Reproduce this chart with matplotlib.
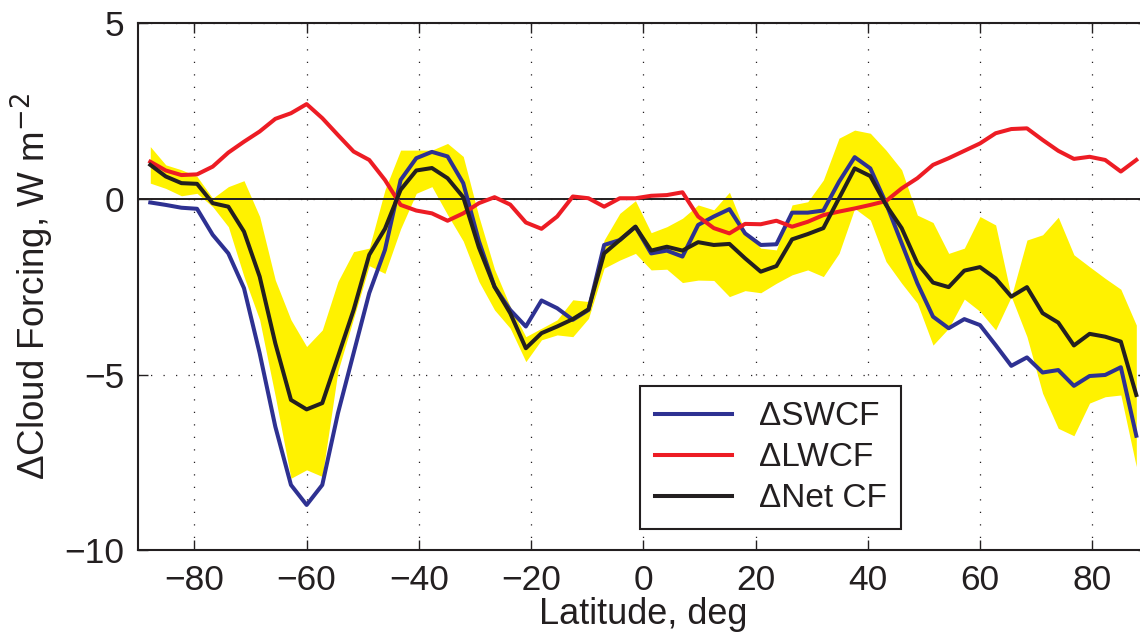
"""Zonal mean change in cloud forcing with spread band"""

import matplotlib
matplotlib.use('Agg')
import matplotlib.pyplot as plt

plt.rcParams['font.family'] = ['Liberation Sans', 'DejaVu Sans']
plt.rcParams['axes.unicode_minus'] = True

# T42 gaussian latitudes, south to north
lat = [-87.86, -85.10, -82.31, -79.53, -76.74, -73.95, -71.16, -68.37,
       -65.58, -62.79, -60.00, -57.21, -54.42, -51.63, -48.84, -46.04,
       -43.25, -40.46, -37.67, -34.88, -32.09, -29.30, -26.51, -23.72,
       -20.93, -18.14, -15.35, -12.56, -9.77, -6.98, -4.19, -1.40,
       1.40, 4.19, 6.98, 9.77, 12.56, 15.35, 18.14, 20.93,
       23.72, 26.51, 29.30, 32.09, 34.88, 37.67, 40.46, 43.25,
       46.04, 48.84, 51.63, 54.42, 57.21, 60.00, 62.79, 65.58,
       68.37, 71.16, 73.95, 76.74, 79.53, 82.31, 85.10, 87.86]

dswcf = [-0.10, -0.17, -0.25, -0.28, -1.02, -1.55, -2.54, -4.39,
         -6.48, -8.14, -8.71, -8.14, -6.10, -4.39, -2.68, -1.45,
         0.54, 1.16, 1.34, 1.21, 0.45, -1.20, -2.50, -3.16,
         -3.63, -2.89, -3.11, -3.44, -3.16, -1.31, -1.17, -0.79,
         -1.55, -1.47, -1.64, -0.74, -0.50, -0.29, -0.98, -1.31,
         -1.29, -0.39, -0.39, -0.33, 0.49, 1.19, 0.87, -0.12,
         -1.26, -2.40, -3.35, -3.68, -3.42, -3.59, -4.16, -4.75,
         -4.51, -4.94, -4.87, -5.32, -5.04, -5.01, -4.79, -6.74]

dlwcf = [1.06, 0.81, 0.68, 0.70, 0.92, 1.32, 1.63, 1.92,
         2.28, 2.44, 2.70, 2.30, 1.82, 1.35, 1.11, 0.54,
         -0.17, -0.33, -0.41, -0.62, -0.41, -0.12, 0.05, -0.16,
         -0.67, -0.85, -0.50, 0.07, 0.02, -0.22, 0.02, 0.02,
         0.09, 0.11, 0.19, -0.50, -0.83, -0.98, -0.71, -0.72,
         -0.62, -0.79, -0.65, -0.46, -0.36, -0.27, -0.17, -0.06,
         0.30, 0.59, 0.97, 1.16, 1.37, 1.58, 1.87, 1.99,
         2.01, 1.68, 1.37, 1.14, 1.20, 1.11, 0.78, 1.11]

dnetcf = [0.97, 0.64, 0.45, 0.43, -0.12, -0.22, -0.93, -2.21,
          -4.11, -5.72, -5.99, -5.81, -4.49, -3.16, -1.59, -0.85,
          0.26, 0.81, 0.88, 0.59, 0.05, -1.38, -2.50, -3.25,
          -4.25, -3.82, -3.63, -3.42, -3.14, -1.55, -1.17, -0.79,
          -1.47, -1.36, -1.47, -1.23, -1.31, -1.28, -1.69, -2.07,
          -1.91, -1.15, -1.00, -0.83, 0.02, 0.87, 0.65, -0.17,
          -0.83, -1.83, -2.38, -2.51, -2.04, -1.94, -2.26, -2.78,
          -2.51, -3.25, -3.52, -4.17, -3.84, -3.92, -4.06, -5.58]

# spread of net CF (shaded)
net_hi = [1.49, 0.97, 0.83, 0.64, 0.02, 0.35, 0.52, -0.50,
          -2.31, -3.44, -4.20, -3.73, -2.35, -1.50, -1.40, 0.26,
          1.39, 1.39, 1.39, 1.58, 1.21, -0.50, -2.00, -3.06,
          -3.92, -3.68, -3.44, -2.87, -2.92, -1.17, -0.41, -0.05,
          -0.96, -0.79, -0.55, -0.17, -0.31, 0.19, -0.93, -1.40,
          -1.45, -0.17, -0.08, 0.54, 1.73, 1.96, 1.87, 1.39,
          0.83, -0.46, -0.67, -1.55, -1.40, -0.50, -0.74, -2.78,
          -1.17, -1.02, -0.52, -1.59, -1.93, -2.26, -2.57, -3.59]

net_lo = [0.45, 0.30, 0.09, 0.16, -0.22, -0.79, -2.21, -3.44,
          -5.62, -7.95, -7.71, -7.90, -4.90, -3.40, -1.90, -2.12,
          -0.85, 0.16, 0.35, -0.45, -1.20, -2.35, -3.16, -3.68,
          -4.63, -4.01, -3.87, -3.92, -3.40, -1.97, -1.74, -1.55,
          -2.02, -2.00, -2.38, -2.31, -2.32, -2.78, -2.61, -2.67,
          -2.40, -2.16, -2.02, -2.21, -1.55, -0.27, -0.60, -1.78,
          -2.40, -2.97, -4.16, -3.68, -2.85, -3.20, -3.73, -2.78,
          -3.92, -5.53, -6.53, -6.74, -5.81, -5.63, -5.58, -7.62]


def plot_cloud_forcing():
    """Plots the cloud forcing figure"""
    fig = plt.figure(figsize=(11.4, 6.38), dpi=100)
    ax = fig.add_axes([0.1213, 0.1375, 0.886, 0.826])

    ax.fill_between(lat, net_lo, net_hi, color='#FFF200', lw=0, zorder=1)
    ax.axhline(0, color='#231F20', lw=1.4, zorder=2)

    ax.plot(lat, dswcf, color='#2E3192', lw=2.9, label='ΔSWCF', zorder=3)
    ax.plot(lat, dlwcf, color='#ED1C24', lw=2.9, label='ΔLWCF', zorder=3)
    ax.plot(lat, dnetcf, color='#231F20', lw=2.9, label='ΔNet CF', zorder=4)

    ax.set_xlim(-90, 90)
    ax.set_ylim(-10, 5)
    ax.set_xticks(range(-80, 81, 20))
    ax.set_yticks([-10, -5, 0, 5])

    ax.set_axisbelow(True)
    ax.grid(True, ls=(0, (1, 9)), color='#231F20', lw=0.9)

    ax.tick_params(direction='in', length=7, width=1, top=True, right=True,
                   labelsize=25.5, colors='#231F20', pad=10)
    for s in ax.spines.values():
        s.set_linewidth(1.5)
        s.set_color('#231F20')

    ax.set_xlabel('Latitude, deg', fontsize=26, color='#231F20', labelpad=0)
    ax.set_ylabel('ΔCloud Forcing, W m$^{-2}$', fontsize=26.5,
                  color='#231F20', labelpad=6)

    leg = ax.legend(loc='lower left', bbox_to_anchor=(0.497, 0.040),
                    fontsize=24, fancybox=False, framealpha=1,
                    edgecolor='#231F20', handlelength=2.3,
                    borderaxespad=0, labelspacing=0.3, borderpad=0.45)
    leg.get_frame().set_linewidth(1.5)
    for t in leg.get_texts():
        t.set_color('#231F20')

    fig.savefig('out.png', dpi=100)


if __name__ == "__main__":
    plot_cloud_forcing()
